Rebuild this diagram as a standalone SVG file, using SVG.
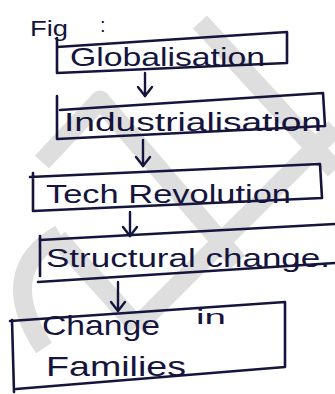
<svg xmlns="http://www.w3.org/2000/svg" width="335" height="394" viewBox="0 0 335 394">
  <style>
    .wm { fill: none; stroke: #dedede; stroke-width: 19; stroke-linecap: butt; stroke-linejoin: round; }
    .box { fill: none; stroke: #14143c; stroke-width: 2.6; stroke-linejoin: round; stroke-linecap: round; }
    .lbl { font-family: "Liberation Sans", "DejaVu Sans", sans-serif; fill: #14143c; }
    .conn { fill: none; stroke: #14143c; stroke-width: 2.4; stroke-linecap: round; }
  </style>
  <defs>
    <marker id="arrow" viewBox="-11 -9 13 18" refX="0" refY="0" markerWidth="13" markerHeight="18" markerUnits="userSpaceOnUse" orient="auto">
      <path d="M-9,-7 L0,0 L-9,7" fill="none" stroke="#14143c" stroke-width="2.4" stroke-linecap="round" stroke-linejoin="round"/>
    </marker>
  </defs>
  <rect width="335" height="394" fill="#ffffff"/>
  <g id="watermark">
    <path class="wm" d="M200,22 L335,170"/>
    <path class="wm" d="M335,128 L137,326"/>
    <path class="wm" d="M42,162 L100,100 L238,262"/>
    <path class="wm" d="M58,238 L137,326"/>
    <path class="wm" d="M60,234 Q-6,272 44,348"/>
  </g>
  <text class="lbl" x="30" y="36" style="font-size:22px" textLength="38" lengthAdjust="spacingAndGlyphs">Fig</text>
  <text class="lbl" x="100" y="32" style="font-size:20px">:</text>
  <g id="globalisation">
    <path class="box" d="M57,38 L57,73 L287,63 L287,32 L57,47"/>
    <text class="lbl" x="70" y="66" style="font-size:25px" textLength="195" lengthAdjust="spacingAndGlyphs">Globalisation</text>
  </g>
  <g id="industrialisation">
    <path class="box" d="M57,96 L57,139 L325,126 L323,93 L60,110"/>
    <text class="lbl" x="64" y="131" style="font-size:25px" textLength="258" lengthAdjust="spacingAndGlyphs">Industrialisation</text>
  </g>
  <g id="tech-revolution">
    <path class="box" d="M33,173 L33,211 L322,198 L320,164 L30,177"/>
    <text class="lbl" x="46" y="203" style="font-size:25px" textLength="245" lengthAdjust="spacingAndGlyphs">Tech Revolution</text>
  </g>
  <g id="structural-change">
    <path class="box" d="M40,236 L40,276"/>
    <path class="box" d="M40,240 L335,224"/>
    <path class="box" d="M38,282 L335,263"/>
    <text class="lbl" x="46" y="267" style="font-size:25px" textLength="284" lengthAdjust="spacingAndGlyphs">Structural change.</text>
  </g>
  <g id="change-in-families">
    <path class="box" d="M12,320 L14,392"/>
    <path class="box" d="M10,321 L285,302 L285,367 L16,389"/>
    <text class="lbl" x="42" y="335" style="font-size:28px" textLength="118" lengthAdjust="spacingAndGlyphs">Change</text>
    <text class="lbl" x="196" y="324" style="font-size:20px" textLength="30" lengthAdjust="spacingAndGlyphs">in</text>
    <text class="lbl" x="46" y="376" style="font-size:28px" textLength="140" lengthAdjust="spacingAndGlyphs">Families</text>
  </g>
  <g id="connectors">
    <path class="conn" d="M145,73 L145,96" marker-end="url(#arrow)"/>
    <path class="conn" d="M143,140 L143,166" marker-end="url(#arrow)"/>
    <path class="conn" d="M130,212 L130,236" marker-end="url(#arrow)"/>
    <path class="conn" d="M118,282 L118,311" marker-end="url(#arrow)"/>
  </g>
</svg>
